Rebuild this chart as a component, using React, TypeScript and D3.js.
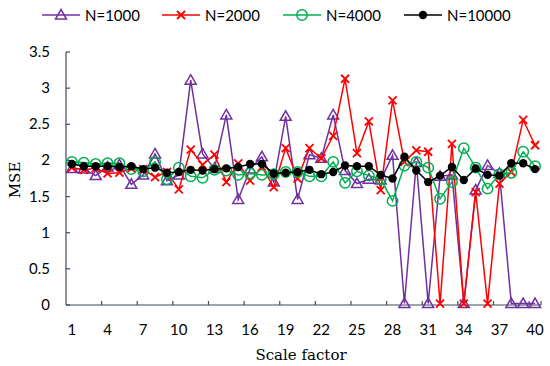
import React, { useEffect, useRef } from 'react';
import * as d3 from 'd3';

const factors = d3.range(1, 41);

const n1000 = [
  1.89, 1.88, 1.79, 1.91, 1.94, 1.67, 1.8, 2.09, 1.72, 1.8,
  3.11, 2.09, 1.89, 2.63, 1.46, 1.88, 2.05, 1.7, 2.61, 1.46,
  2.08, 2.03, 2.63, 1.86, 1.68, 1.74, 1.73, 2.07, 0.02, 1.97,
  0.02, 1.78, 1.8, 0.02, 1.59, 1.93, 1.82, 0.02, 0.02, 0.02
];
const n2000 = [
  1.9, 1.87, 1.89, 1.82, 1.83, 1.89, 1.88, 1.77, 1.84, 1.6,
  2.15, 1.94, 2.08, 1.7, 1.96, 1.72, 1.91, 1.63, 2.17, 1.75,
  2.17, 2.03, 2.34, 3.13, 2.1, 2.54, 1.59, 2.83, 1.98, 2.14,
  2.12, 0.02, 2.23, 0.02, 1.56, 0.02, 1.68, 1.84, 2.56, 2.21
];
const n4000 = [
  1.98, 1.97, 1.95, 1.96, 1.96, 1.88, 1.85, 1.98, 1.74, 1.9,
  1.78, 1.76, 1.87, 1.86, 1.8, 1.82, 1.8, 1.81, 1.84, 1.84,
  1.78, 1.78, 1.98, 1.69, 1.85, 1.79, 1.74, 1.44, 1.93, 1.98,
  1.9, 1.47, 1.7, 2.17, 1.9, 1.61, 1.81, 1.83, 2.12, 1.92
];
const n10000 = [
  1.95, 1.92, 1.92, 1.92, 1.91, 1.92, 1.88, 1.9, 1.83, 1.84,
  1.87, 1.86, 1.88, 1.89, 1.91, 1.95, 1.95, 1.82, 1.83, 1.84,
  1.87, 1.81, 1.84, 1.93, 1.92, 1.92, 1.8, 1.75, 2.05, 1.86,
  1.7, 1.79, 1.91, 1.73, 1.89, 1.8, 1.79, 1.96, 1.96, 1.88
];

const seriesNames = ['N=1000', 'N=2000', 'N=4000', 'N=10000'];
const yTicks = [0, 0.5, 1, 1.5, 2, 2.5, 3, 3.5];
const xLabels = [1, 4, 7, 10, 13, 16, 19, 22, 25, 28, 31, 34, 37, 40];

const colors = ['#7030a0', '#ff0000', '#00b050', '#000000'];
const markers = ['triangle', 'cross', 'circle', 'dot'];

const tickFont = 'Lato, "Open Sans", sans-serif';
const titleFont = '"DejaVu Serif", serif';
const axisColor = '#3d4b5c';

const drawMarker = (g, type, color, x, y) => {
  if (type === 'triangle') {
    g.append('path')
      .attr('d', `M${x},${y - 5.5}L${x + 5.5},${y + 4}L${x - 5.5},${y + 4}Z`)
      .attr('fill', 'none')
      .attr('stroke', color)
      .attr('stroke-width', 1.5);
  } else if (type === 'cross') {
    g.append('path')
      .attr('d', `M${x - 4},${y - 4}L${x + 4},${y + 4}M${x - 4},${y + 4}L${x + 4},${y - 4}`)
      .attr('stroke', color)
      .attr('stroke-width', 1.8);
  } else if (type === 'circle') {
    g.append('circle')
      .attr('cx', x)
      .attr('cy', y)
      .attr('r', 5.2)
      .attr('fill', 'none')
      .attr('stroke', color)
      .attr('stroke-width', 1.5);
  } else {
    g.append('circle').attr('cx', x).attr('cy', y).attr('r', 4.2).attr('fill', color);
  }
};

const App = () => {
  const container = useRef(null);

  useEffect(() => {
    const width = 550;
    const height = 366;
    const margins = { l: 66, t: 52, r: 9, b: 61 };

    const svg = d3.select(container.current).selectAll('svg').data([0]).join('svg');
    svg.attr('width', width).attr('height', height);
    svg.selectAll('*').remove();

    const xScale = d3
      .scaleBand()
      .domain(factors.map(String))
      .range([margins.l, width - margins.r]);
    const cx = d => xScale(String(d)) + xScale.bandwidth() / 2;

    const yScale = d3
      .scaleLinear()
      .domain([0, 3.5])
      .range([height - margins.b, margins.t]);

    // axes
    const axisg = svg.append('g');
    axisg
      .append('line')
      .attr('x1', margins.l)
      .attr('x2', margins.l)
      .attr('y1', yScale(0))
      .attr('y2', yScale(3.5))
      .attr('stroke', axisColor)
      .attr('stroke-width', 1.2);
    axisg
      .append('line')
      .attr('x1', margins.l)
      .attr('x2', width - margins.r)
      .attr('y1', yScale(0))
      .attr('y2', yScale(0))
      .attr('stroke', axisColor)
      .attr('stroke-width', 1.2);

    yTicks.forEach(t => {
      axisg
        .append('line')
        .attr('x1', margins.l)
        .attr('x2', margins.l + 4)
        .attr('y1', yScale(t))
        .attr('y2', yScale(t))
        .attr('stroke', axisColor)
        .attr('stroke-width', 1.2);
      axisg
        .append('text')
        .attr('x', 50)
        .attr('y', yScale(t) + 5)
        .attr('text-anchor', 'end')
        .attr('font-family', tickFont)
        .attr('font-size', 15)
        .attr('fill', '#000')
        .text(String(t));
    });

    // category boundaries every 3 factors, plus the end of the axis
    const boundaries = d3.range(3, 40, 3).map(k => xScale(String(k + 1))).concat([width - margins.r]);
    boundaries.forEach(bx => {
      axisg
        .append('line')
        .attr('x1', bx)
        .attr('x2', bx)
        .attr('y1', yScale(0))
        .attr('y2', yScale(0) - 4)
        .attr('stroke', axisColor)
        .attr('stroke-width', 1.2);
    });

    xLabels.forEach(l => {
      axisg
        .append('text')
        .attr('x', cx(l))
        .attr('y', 335)
        .attr('text-anchor', 'middle')
        .attr('font-family', tickFont)
        .attr('font-size', 15)
        .attr('fill', '#000')
        .text(String(l));
    });

    svg
      .append('text')
      .attr('x', 301)
      .attr('y', 360)
      .attr('text-anchor', 'middle')
      .attr('font-family', titleFont)
      .attr('font-size', 15)
      .attr('font-weight', 300)
      .text('Scale factor');

    svg
      .append('text')
      .attr('transform', `translate(20, ${yScale(1.73)}) rotate(-90)`)
      .attr('text-anchor', 'middle')
      .attr('font-family', titleFont)
      .attr('font-size', 15)
      .text('MSE');

    // series
    const allSeries = [n1000, n2000, n4000, n10000];
    const line = d3
      .line()
      .x((d, i) => cx(factors[i]))
      .y(d => yScale(d));

    allSeries.forEach((s, si) => {
      const g = svg.append('g').attr('class', 'series');
      g.append('path')
        .attr('d', line(s))
        .attr('fill', 'none')
        .attr('stroke', colors[si])
        .attr('stroke-width', 1.5);
      s.forEach((v, i) => drawMarker(g, markers[si], colors[si], cx(factors[i]), yScale(v)));
    });

    // legend
    const legendX = [42, 162, 283, 404];
    const legendY = 15;
    seriesNames.forEach((name, si) => {
      const g = svg.append('g').attr('class', 'legend');
      const x0 = legendX[si];
      g.append('line')
        .attr('x1', x0)
        .attr('x2', x0 + 38)
        .attr('y1', legendY)
        .attr('y2', legendY)
        .attr('stroke', colors[si])
        .attr('stroke-width', 1.5);
      drawMarker(g, markers[si], colors[si], x0 + 19, legendY);
      g.append('text')
        .attr('x', x0 + 43)
        .attr('y', legendY + 5.5)
        .attr('font-family', tickFont)
        .attr('font-size', 15)
        .attr('fill', '#000')
        .text(name);
    });
  }, []);

  return (
    <div
      className="mse-chart"
      ref={container}
      style={{ position: 'absolute', left: 0, top: 0, width: 550, height: 366, background: '#fff' }}
    ></div>
  );
};

export default App;
